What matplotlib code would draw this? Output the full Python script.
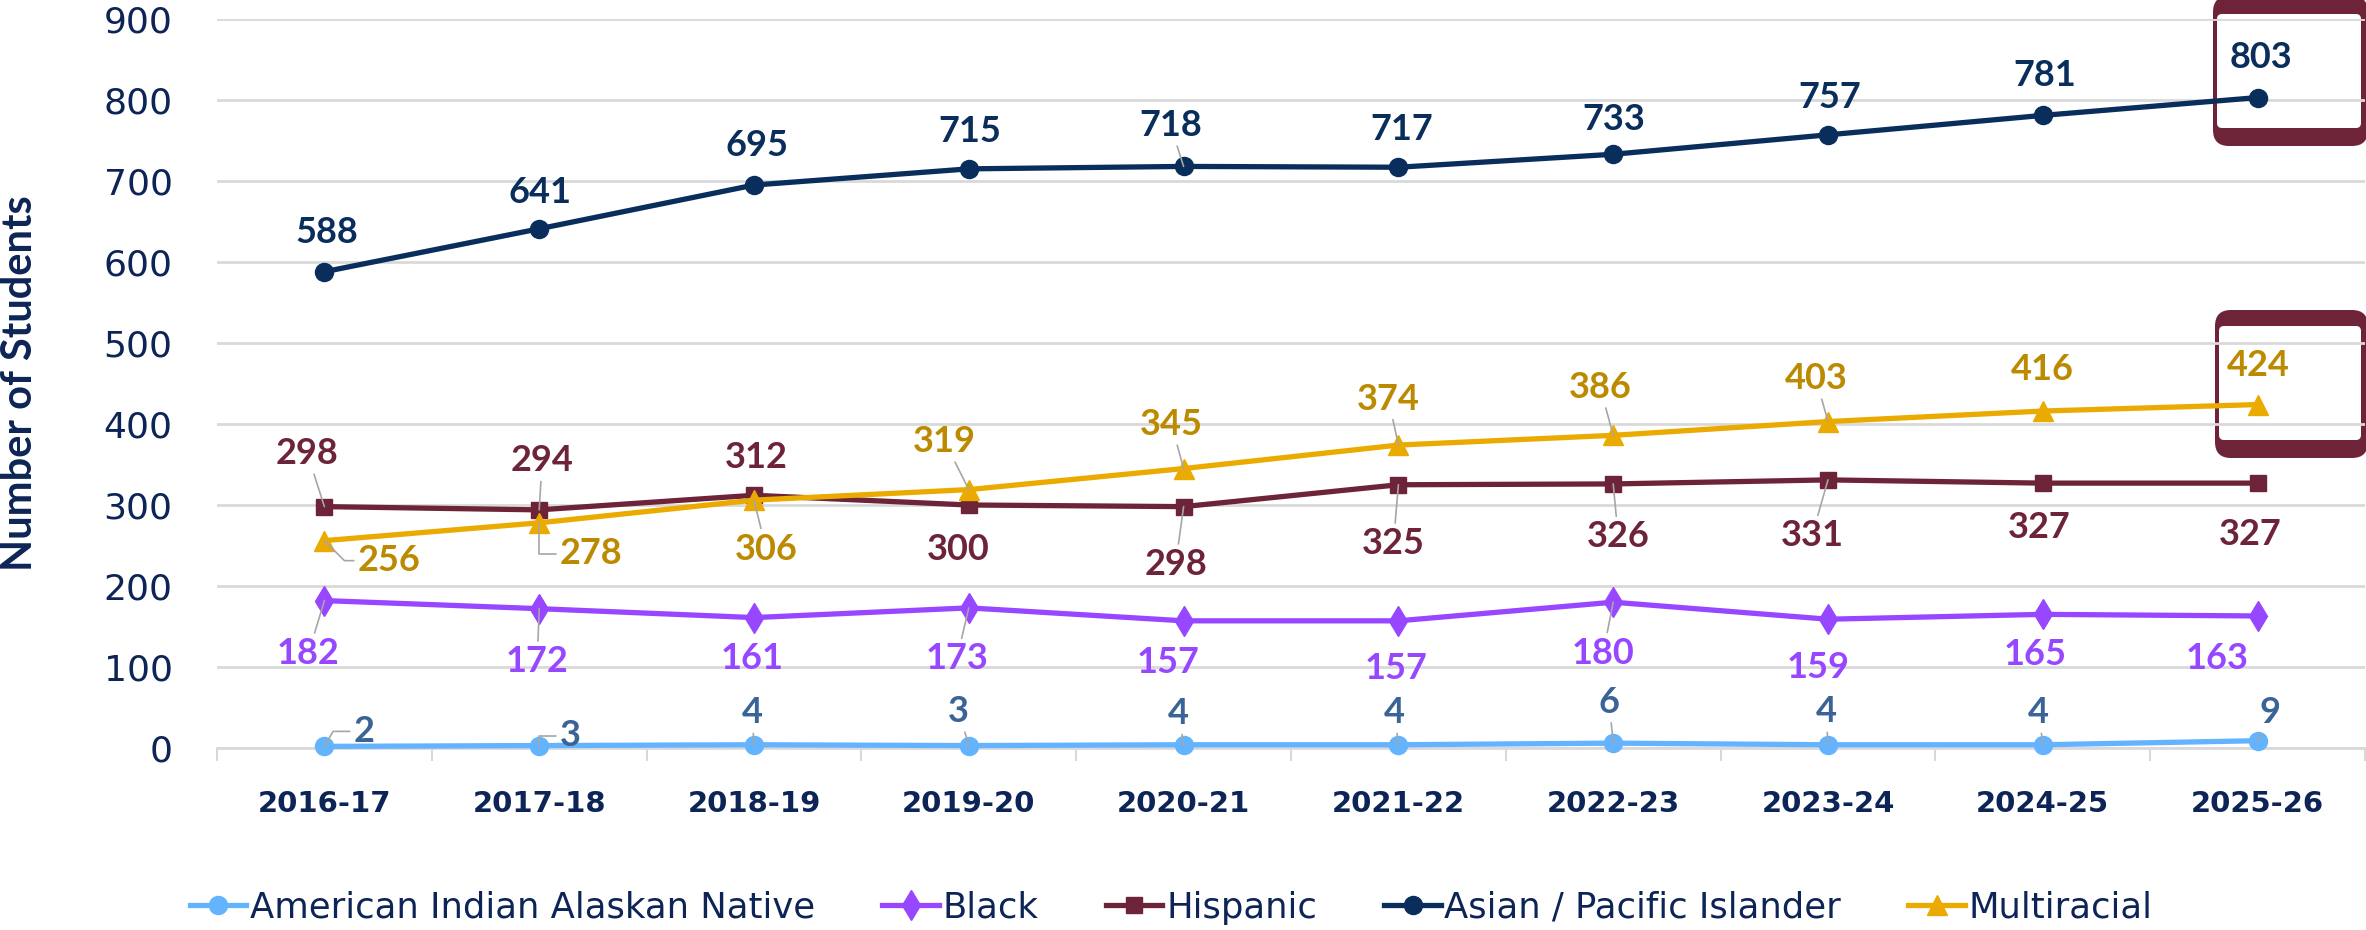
import numpy as np
import matplotlib
matplotlib.use('Agg')
import matplotlib.pyplot as plt
from matplotlib.patches import FancyBboxPatch

# =============================================================================
# data
# =============================================================================

years = ["2016-17", "2017-18", "2018-19", "2019-20", "2020-21",
         "2021-22", "2022-23", "2023-24", "2024-25", "2025-26"]

am_indian = [2, 3, 4, 3, 4, 4, 6, 4, 4, 9]
black = [182, 172, 161, 173, 157, 157, 180, 159, 165, 163]
hispanic = [298, 294, 312, 300, 298, 325, 326, 331, 327, 327]
asian_pi = [588, 641, 695, 715, 718, 717, 733, 757, 781, 803]
multiracial = [256, 278, 306, 319, 345, 374, 386, 403, 416, 424]

y_ticks = [0, 100, 200, 300, 400, 500, 600, 700, 800, 900]

# =============================================================================
# styles / label offsets (pixels, + is up)
# =============================================================================

NAVY = '#0D2456'
GRID = '#D9D9D9'
LEADER = '#A6A6A6'
BOX = '#6D2439'
LBL_FONT = ['Lato', 'DejaVu Sans']

series = [
    # name, values, line colour, label colour, marker, marker size
    ("American Indian Alaskan Native", am_indian, '#63B3FF', '#3A6396', 'o', 13),
    ("Black", black, '#9747FF', '#9747FF', 'd', 15),
    ("Hispanic", hispanic, '#6D2439', '#6D2439', 's', 12),
    ("Asian / Pacific Islander", asian_pi, '#0A2E5C', '#0A2E5C', 'o', 13),
    ("Multiracial", multiracial, '#EBAA00', '#BC8A00', '^', 14),
]

offsets = [
    [(40, 15), (31, 10), (-2, 32), (-10, 34), (-5, 31), (-4, 32), (-4, 41), (-2, 33), (-4, 32), (12, 28)],
    [(-16, -53), (-2, -53), (-2, -41), (-12, -51), (-16, -42), (-2, -48), (-10, -51), (-10, -48), (-8, -40), (-40, -43)],
    [(-17, 53), (3, 49), (2, 38), (-11, -44), (-8, -58), (-5, -59), (5, -53), (-16, -56), (-4, -44), (-7, -51)],
    [(2, 39), (1, 36), (3, 40), (1, 37), (-13, 41), (3, 38), (1, 35), (2, 37), (2, 40), (3, 40)],
    [(65, -20), (52, -31), (12, -49), (-24, 48), (-12, 44), (-10, 46), (-13, 48), (-12, 43), (0, 42), (1, 39)],
]

# 0 = no leader, 1 = straight leader, other = elbow leader with that angle
leaders = [
    [60, 90, 1, 1, 1, 1, 1, 1, 1, 1],
    [1, 1, 0, 1, 0, 0, 1, 0, 0, 0],
    [1, 1, 0, 0, 1, 1, 1, 1, 0, 0],
    [0, 0, 0, 0, 1, 0, 0, 0, 0, 0],
    [135, 90, 1, 1, 1, 1, 1, 1, 0, 0],
]

W, H = 2366, 930


def draw_box(fig, x0, y0, x1, y1, ix0, iy0, ix1, iy1):
    # frame drawn behind the axes, coords are pixels from top-left
    outer = FancyBboxPatch((x0 / 100, (H - y1) / 100), (x1 - x0) / 100, (y1 - y0) / 100,
                           boxstyle='round,pad=0,rounding_size=0.16',
                           transform=fig.dpi_scale_trans, facecolor=BOX,
                           edgecolor='none', zorder=-2)
    inner = FancyBboxPatch((ix0 / 100, (H - iy1) / 100), (ix1 - ix0) / 100, (iy1 - iy0) / 100,
                           boxstyle='round,pad=0,rounding_size=0.05',
                           transform=fig.dpi_scale_trans, facecolor='white',
                           edgecolor='none', zorder=-1)
    fig.patches.extend([outer, inner])


def main():
    fig = plt.figure(figsize=(W / 100, H / 100), dpi=100)
    ax = fig.add_axes([217 / W, (H - 748) / H, (2365 - 217) / W, 729 / H])
    ax.patch.set_facecolor('none')

    x = np.arange(len(years))
    handles = []
    for (name, vals, col, lcol, mk, ms), offs, lead in zip(series, offsets, leaders):
        ln, = ax.plot(x, vals, color=col, lw=3.8, marker=mk, ms=ms, label=name,
                      zorder=3, clip_on=False)
        handles.append(ln)
        for xi, v, (dx, dy), ld in zip(x, vals, offs, lead):
            kw = {}
            if ld:
                style = 'arc3' if ld == 1 else f'angle,angleA=0,angleB={ld},rad=0'
                kw['arrowprops'] = dict(arrowstyle='-', color=LEADER, lw=1.2,
                                        shrinkA=1, shrinkB=0, connectionstyle=style)
            ax.annotate(str(v), (xi, v), xytext=(dx, dy), textcoords='offset pixels',
                        ha='center', va='center', color=lcol, fontsize=26,
                        fontweight='bold', family=LBL_FONT, zorder=4, **kw)

    ax.set_xlim(-0.5, len(years) - 0.5)
    ax.set_ylim(0, 900)
    ax.set_yticks(y_ticks)
    ax.set_xticks(x)
    ax.set_xticklabels(years)
    ax.set_xticks(np.arange(-0.5, len(years), 1), minor=True)
    ax.grid(axis='y', color=GRID, lw=2)
    ax.set_axisbelow(True)

    for s in ['top', 'right', 'left']:
        ax.spines[s].set_visible(False)
    ax.spines['bottom'].set_color(GRID)
    ax.spines['bottom'].set_linewidth(2)

    ax.tick_params(axis='y', length=0, pad=32, labelsize=26, labelcolor=NAVY)
    ax.tick_params(axis='x', which='major', length=0, pad=30, labelsize=21, labelcolor=NAVY)
    ax.tick_params(axis='x', which='minor', length=9, width=1.5, color=GRID)
    for t in ax.get_xticklabels():
        t.set_fontweight('bold')

    ax.set_ylabel("Number of Students", fontsize=30, fontweight='bold', color=NAVY,
                  family=LBL_FONT, va='center')
    ax.yaxis.set_label_coords(-0.0915, 0.50)

    fig.legend(handles=handles, loc='center', bbox_to_anchor=(0.495, 0.024), ncol=5,
               frameon=False, fontsize=25.5, labelcolor=NAVY, handlelength=1.6,
               handletextpad=0.1, columnspacing=1.9, borderpad=0)

    draw_box(fig, 2213, -4, 2368, 146, 2217, 14, 2361, 128)
    draw_box(fig, 2215, 310, 2368, 458, 2219, 326, 2361, 440)

    fig.savefig('out.png', dpi=100)
    plt.close(fig)


if __name__ == "__main__":
    main()
